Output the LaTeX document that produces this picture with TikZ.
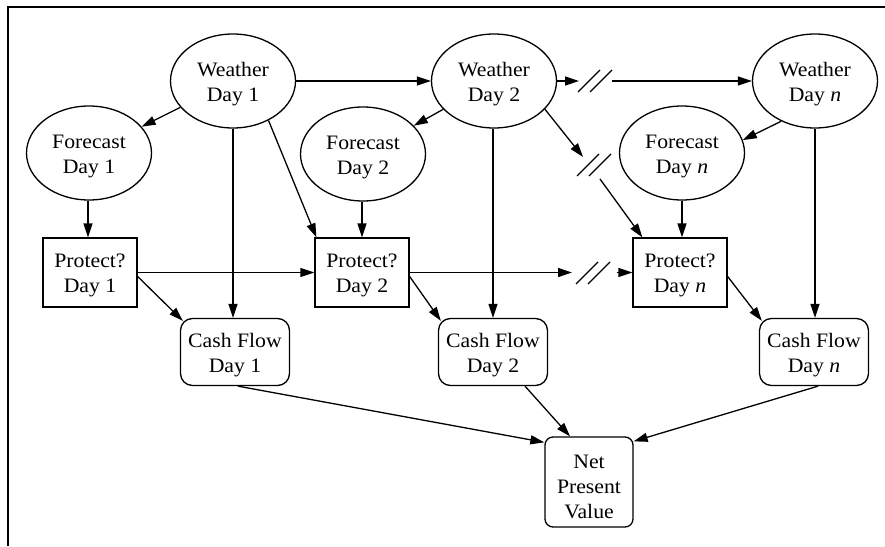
\documentclass[tikz,border=0pt]{standalone}
\usepackage{fontspec}
\setmainfont{Liberation Serif}[FakeStretch=1.06]
\usetikzlibrary{arrows.meta,calc,shapes.geometric}
% invisible strut that lowers the text a little inside its shape
\newcommand{\toppad}[1]{\rule{0pt}{#1}}

\begin{document}
\begin{tikzpicture}[x=1pt,y=-1pt,
  every node/.style={font=\fontsize{20.5}{25}\selectfont, align=center,
    inner sep=0pt, line width=1.3pt},
  chance/.style={draw, ellipse, minimum width=125pt, minimum height=94pt},
  decision/.style={draw, rectangle, minimum width=94pt, minimum height=69pt},
  cashflow/.style={draw, rectangle, rounded corners=12pt, minimum width=109pt, minimum height=67pt},
  npvbox/.style={draw, rectangle, rounded corners=8pt, minimum width=88pt, minimum height=90pt},
  arr/.style={line width=1.3pt, -{Triangle[length=14pt,width=9pt]}},
  brk/.style={line width=1.3pt},
  frameline/.style={line width=1.7pt}
]
\useasboundingbox (0,0) rectangle (885,546);

% frame
\draw[frameline] (8,546) -- (8,7) -- (885,7);

% chance nodes: weather and forecast
\node[chance] (W1) at (233,81) {\toppad{20pt}Weather\\Day 1};
\node[chance] (W2) at (494,81) {\toppad{20pt}Weather\\Day 2};
\node[chance] (Wn) at (815,81) {\toppad{20pt}Weather\\Day \textit{n}};
\node[chance] (F1) at (89,153) {\toppad{20pt}Forecast\\Day 1};
\node[chance] (F2) at (363,154) {\toppad{20pt}Forecast\\Day 2};
\node[chance] (Fn) at (682,153) {\toppad{20pt}Forecast\\Day \textit{n}};

% decision nodes
\node[decision] (P1) at (90,272.5) {\toppad{19pt}Protect?\\Day 1};
\node[decision] (P2) at (362,272.5) {\toppad{19pt}Protect?\\Day 2};
\node[decision] (Pn) at (680,272.5) {\toppad{19pt}Protect?\\Day \textit{n}};

% value nodes
\node[cashflow] (C1) at (235,352) {\toppad{20pt}Cash Flow\\Day 1};
\node[cashflow] (C2) at (493,352) {\toppad{20pt}Cash Flow\\Day 2};
\node[cashflow] (Cn) at (814,352) {\toppad{20pt}Cash Flow\\Day \textit{n}};
\node[npvbox] (NPV) at (589,482) {\toppad{23pt}Net\\Present\\Value};

% break points on the links that skip the intermediate days
\coordinate (brkA) at (595,81);
\coordinate (aIn) at (579,81);
\coordinate (aOut) at (612,81);
\coordinate (brkB) at (594,165);
\coordinate (bIn) at (583,157);
\coordinate (bOut) at (600,179);
\coordinate (brkC) at (593,273);
\coordinate (cIn) at (572,272.5);
\coordinate (cOut) at (617,272.5);

% weather links
\draw[arr] (W1) -- (F1);
\draw[arr] (W2) -- (F2);
\draw[arr] (Wn.230) -- (Fn.12);
\draw[arr] (W1) -- (W2);
\draw[arr] (W2) -- (aIn);
\draw[arr] (aOut) -- (Wn);
\draw[arr] (W1.-48) -- ($(P2.north west)+(2,0)$);
\draw[arr] (W2.-29) -- (bIn);
\draw[arr] (bOut) -- ($(Pn.north west)+(10,0)$);
\draw[arr] (W1.south -| 233,0) -- (233,0 |- C1.north);
\draw[arr] (W2.south -| 493,0) -- (493,0 |- C2.north);
\draw[arr] (Wn.south) -- (Wn.south |- Cn.north);

% forecast to decision
\draw[arr] (F1.south -| 88,0) -- (88,0 |- P1.north);
\draw[arr] (F2.south -| 362,0) -- (362,0 |- P2.north);
\draw[arr] (Fn.south) -- (Fn.south |- Pn.north);

% decision links
\draw[arr] (P1) -- (P2);
\draw[arr] (P2) -- (cIn);
\draw[arr] (cOut) -- (Pn);
\draw[arr] ($(P1.east)+(0,4)$) -- ($(C1.north west)+(3,3)$);
\draw[arr] ($(P2.east)+(0,4)$) -- ($(C2.north west)+(3,3)$);
\draw[arr] ($(Pn.east)+(0,4)$) -- ($(Cn.north west)+(3,3)$);

% cash flows to net present value
\draw[arr] ($(C1.south)+(3,0)$) -- ($(NPV.north west)+(0,6)$);
\draw[arr] ($(C2.south)+(32,0)$) -- ($(NPV.north)+(-19,0)$);
\draw[arr] ($(Cn.south)+(4,0)$) -- ($(NPV.north east)+(0,5)$);

% break marks
\foreach \b in {brkA,brkB,brkC}{
  \draw[brk] ($(\b)+(-17,11)$) -- ($(\b)+(5,-11)$);
  \draw[brk] ($(\b)+(-5,11)$) -- ($(\b)+(17,-11)$);
}
\end{tikzpicture}
\end{document}
